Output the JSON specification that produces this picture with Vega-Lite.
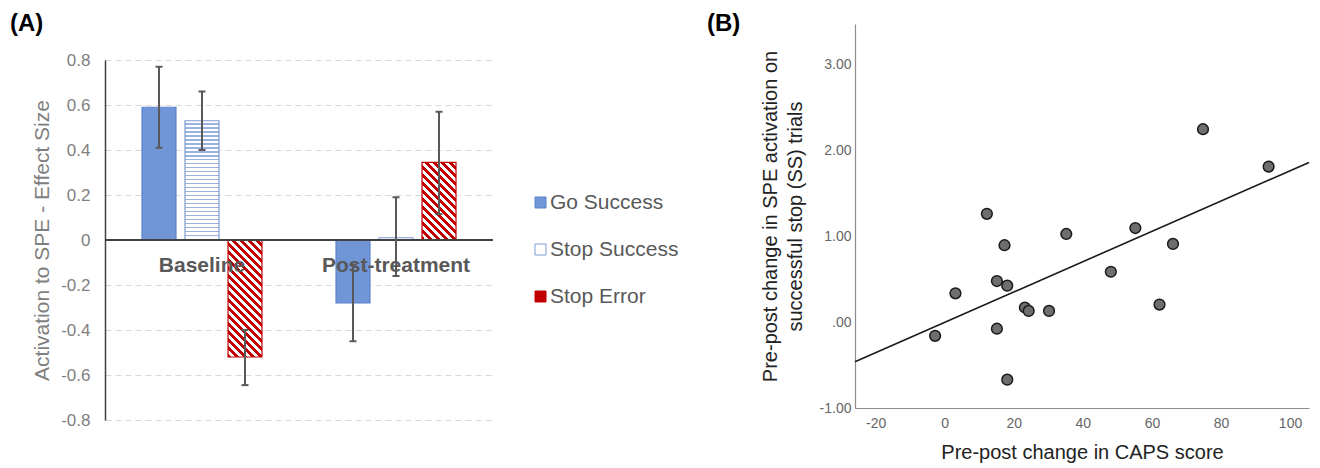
{
  "$schema": "https://vega.github.io/schema/vega-lite/v6.json",
  "padding": {"left": 10, "top": 12, "right": 5, "bottom": 5},
  "background": "#ffffff",
  "spacing": 213,
  "config": {
    "font": "Liberation Sans",
    "view": {"stroke": null},
    "axis": {"ticks": false, "labelFlush": false, "titleFontWeight": "normal"}
  },
  "hconcat": [
    {
      "spacing": 15,
      "vconcat": [
        {
          "width": 388,
          "height": 1,
          "title": {"text": "(A)", "anchor": "start", "frame": "group", "dx": -95, "offset": -12, "fontSize": 24, "fontWeight": "bold", "color": "#000000"},
          "data": {"values": []},
          "mark": "point"
        },
        {
          "width": 388,
          "height": 360,
          "data": {"values": [
            {"group": "Baseline", "series": "Go Success", "value": 0.59, "lo": 0.41, "hi": 0.77},
            {"group": "Baseline", "series": "Stop Success", "value": 0.53, "lo": 0.40, "hi": 0.66},
            {"group": "Baseline", "series": "Stop Error", "value": -0.52, "lo": -0.645, "hi": -0.40},
            {"group": "Post-treatment", "series": "Go Success", "value": -0.28, "lo": -0.45, "hi": -0.11},
            {"group": "Post-treatment", "series": "Stop Success", "value": 0.01, "lo": -0.16, "hi": 0.19},
            {"group": "Post-treatment", "series": "Stop Error", "value": 0.345, "lo": 0.115, "hi": 0.57}
          ]},
          "layer": [
            {
              "mark": {"type": "bar", "strokeWidth": 1.2},
              "encoding": {
                "x": {"field": "group", "type": "nominal", "scale": {"domain": ["Baseline", "Post-treatment"], "paddingInner": 0.335, "paddingOuter": 0.1675}, "axis": null},
                "xOffset": {"field": "series", "type": "nominal", "scale": {"domain": ["Go Success", "Stop Success", "Stop Error"], "paddingInner": 0.21, "paddingOuter": 0.105}},
                "y": {"field": "value", "type": "quantitative", "title": "Activation to SPE - Effect Size",
                  "scale": {"domain": [-0.8, 0.8], "nice": false, "zero": false},
                  "axis": {"values": [-0.8, -0.6, -0.4, -0.2, 0, 0.2, 0.4, 0.6, 0.8],
                    "labelExpr": "datum.value === 0 ? '0' : replace(format(datum.value, '.1f'), '\u2212', '-')",
                    "grid": true, "gridColor": "#d9d9d9", "gridDash": [6, 4], "gridWidth": 1,
                    "domainColor": "#404040", "domainWidth": 1.5,
                    "labelFontSize": 17, "labelColor": "#7f7f7f", "labelPadding": 15,
                    "titleFontSize": 21, "titleColor": "#7f7f7f", "titlePadding": 8}},
                "fill": {"field": "series", "type": "nominal",
                  "scale": {"domain": ["Go Success", "Stop Success", "Stop Error"], "range": ["#7096d8", "#ffffff", "#c00000"]},
                  "condition": [
                    {"test": "datum.series === 'Stop Success' && datum.group === 'Baseline'", "value": {"gradient": "linear", "x1": 0, "y1": 0, "x2": 0, "y2": 1, "stops": [
                      {"offset": 0, "color": "#ffffff"}, {"offset": 0.022, "color": "#ffffff"}, {"offset": 0.022, "color": "#9cb3df"}, {"offset": 0.0333, "color": "#9cb3df"},
                      {"offset": 0.0333, "color": "#ffffff"}, {"offset": 0.0553, "color": "#ffffff"}, {"offset": 0.0553, "color": "#9cb3df"}, {"offset": 0.0667, "color": "#9cb3df"},
                      {"offset": 0.0667, "color": "#ffffff"}, {"offset": 0.0887, "color": "#ffffff"}, {"offset": 0.0887, "color": "#9cb3df"}, {"offset": 0.1, "color": "#9cb3df"},
                      {"offset": 0.1, "color": "#ffffff"}, {"offset": 0.122, "color": "#ffffff"}, {"offset": 0.122, "color": "#9cb3df"}, {"offset": 0.1333, "color": "#9cb3df"},
                      {"offset": 0.1333, "color": "#ffffff"}, {"offset": 0.1553, "color": "#ffffff"}, {"offset": 0.1553, "color": "#9cb3df"}, {"offset": 0.1667, "color": "#9cb3df"},
                      {"offset": 0.1667, "color": "#ffffff"}, {"offset": 0.1887, "color": "#ffffff"}, {"offset": 0.1887, "color": "#9cb3df"}, {"offset": 0.2, "color": "#9cb3df"},
                      {"offset": 0.2, "color": "#ffffff"}, {"offset": 0.222, "color": "#ffffff"}, {"offset": 0.222, "color": "#9cb3df"}, {"offset": 0.2333, "color": "#9cb3df"},
                      {"offset": 0.2333, "color": "#ffffff"}, {"offset": 0.2553, "color": "#ffffff"}, {"offset": 0.2553, "color": "#9cb3df"}, {"offset": 0.2667, "color": "#9cb3df"},
                      {"offset": 0.2667, "color": "#ffffff"}, {"offset": 0.2887, "color": "#ffffff"}, {"offset": 0.2887, "color": "#9cb3df"}, {"offset": 0.3, "color": "#9cb3df"},
                      {"offset": 0.3, "color": "#ffffff"}, {"offset": 0.322, "color": "#ffffff"}, {"offset": 0.322, "color": "#9cb3df"}, {"offset": 0.3333, "color": "#9cb3df"},
                      {"offset": 0.3333, "color": "#ffffff"}, {"offset": 0.3553, "color": "#ffffff"}, {"offset": 0.3553, "color": "#9cb3df"}, {"offset": 0.3667, "color": "#9cb3df"},
                      {"offset": 0.3667, "color": "#ffffff"}, {"offset": 0.3887, "color": "#ffffff"}, {"offset": 0.3887, "color": "#9cb3df"}, {"offset": 0.4, "color": "#9cb3df"},
                      {"offset": 0.4, "color": "#ffffff"}, {"offset": 0.422, "color": "#ffffff"}, {"offset": 0.422, "color": "#9cb3df"}, {"offset": 0.4333, "color": "#9cb3df"},
                      {"offset": 0.4333, "color": "#ffffff"}, {"offset": 0.4553, "color": "#ffffff"}, {"offset": 0.4553, "color": "#9cb3df"}, {"offset": 0.4667, "color": "#9cb3df"},
                      {"offset": 0.4667, "color": "#ffffff"}, {"offset": 0.4887, "color": "#ffffff"}, {"offset": 0.4887, "color": "#9cb3df"}, {"offset": 0.5, "color": "#9cb3df"},
                      {"offset": 0.5, "color": "#ffffff"}, {"offset": 0.522, "color": "#ffffff"}, {"offset": 0.522, "color": "#9cb3df"}, {"offset": 0.5333, "color": "#9cb3df"},
                      {"offset": 0.5333, "color": "#ffffff"}, {"offset": 0.5553, "color": "#ffffff"}, {"offset": 0.5553, "color": "#9cb3df"}, {"offset": 0.5667, "color": "#9cb3df"},
                      {"offset": 0.5667, "color": "#ffffff"}, {"offset": 0.5887, "color": "#ffffff"}, {"offset": 0.5887, "color": "#9cb3df"}, {"offset": 0.6, "color": "#9cb3df"},
                      {"offset": 0.6, "color": "#ffffff"}, {"offset": 0.622, "color": "#ffffff"}, {"offset": 0.622, "color": "#9cb3df"}, {"offset": 0.6333, "color": "#9cb3df"},
                      {"offset": 0.6333, "color": "#ffffff"}, {"offset": 0.6553, "color": "#ffffff"}, {"offset": 0.6553, "color": "#9cb3df"}, {"offset": 0.6667, "color": "#9cb3df"},
                      {"offset": 0.6667, "color": "#ffffff"}, {"offset": 0.6887, "color": "#ffffff"}, {"offset": 0.6887, "color": "#9cb3df"}, {"offset": 0.7, "color": "#9cb3df"},
                      {"offset": 0.7, "color": "#ffffff"}, {"offset": 0.722, "color": "#ffffff"}, {"offset": 0.722, "color": "#9cb3df"}, {"offset": 0.7333, "color": "#9cb3df"},
                      {"offset": 0.7333, "color": "#ffffff"}, {"offset": 0.7553, "color": "#ffffff"}, {"offset": 0.7553, "color": "#9cb3df"}, {"offset": 0.7667, "color": "#9cb3df"},
                      {"offset": 0.7667, "color": "#ffffff"}, {"offset": 0.7887, "color": "#ffffff"}, {"offset": 0.7887, "color": "#9cb3df"}, {"offset": 0.8, "color": "#9cb3df"},
                      {"offset": 0.8, "color": "#ffffff"}, {"offset": 0.822, "color": "#ffffff"}, {"offset": 0.822, "color": "#9cb3df"}, {"offset": 0.8333, "color": "#9cb3df"},
                      {"offset": 0.8333, "color": "#ffffff"}, {"offset": 0.8553, "color": "#ffffff"}, {"offset": 0.8553, "color": "#9cb3df"}, {"offset": 0.8667, "color": "#9cb3df"},
                      {"offset": 0.8667, "color": "#ffffff"}, {"offset": 0.8887, "color": "#ffffff"}, {"offset": 0.8887, "color": "#9cb3df"}, {"offset": 0.9, "color": "#9cb3df"},
                      {"offset": 0.9, "color": "#ffffff"}, {"offset": 0.922, "color": "#ffffff"}, {"offset": 0.922, "color": "#9cb3df"}, {"offset": 0.9333, "color": "#9cb3df"},
                      {"offset": 0.9333, "color": "#ffffff"}, {"offset": 0.9553, "color": "#ffffff"}, {"offset": 0.9553, "color": "#9cb3df"}, {"offset": 0.9667, "color": "#9cb3df"},
                      {"offset": 0.9667, "color": "#ffffff"}, {"offset": 0.9887, "color": "#ffffff"}, {"offset": 0.9887, "color": "#9cb3df"}, {"offset": 1, "color": "#9cb3df"}
                    ]}},
                    {"test": "datum.series === 'Stop Error' && datum.group === 'Baseline'", "value": {"gradient": "linear", "x1": 0, "y1": 1, "x2": 0.3458, "y2": -0.1901, "stops": [
                      {"offset": 0, "color": "#c00000"}, {"offset": 0.0263, "color": "#c00000"}, {"offset": 0.0263, "color": "#ffffff"}, {"offset": 0.0526, "color": "#ffffff"},
                      {"offset": 0.0526, "color": "#c00000"}, {"offset": 0.0789, "color": "#c00000"}, {"offset": 0.0789, "color": "#ffffff"}, {"offset": 0.1053, "color": "#ffffff"},
                      {"offset": 0.1053, "color": "#c00000"}, {"offset": 0.1316, "color": "#c00000"}, {"offset": 0.1316, "color": "#ffffff"}, {"offset": 0.1579, "color": "#ffffff"},
                      {"offset": 0.1579, "color": "#c00000"}, {"offset": 0.1842, "color": "#c00000"}, {"offset": 0.1842, "color": "#ffffff"}, {"offset": 0.2105, "color": "#ffffff"},
                      {"offset": 0.2105, "color": "#c00000"}, {"offset": 0.2368, "color": "#c00000"}, {"offset": 0.2368, "color": "#ffffff"}, {"offset": 0.2632, "color": "#ffffff"},
                      {"offset": 0.2632, "color": "#c00000"}, {"offset": 0.2895, "color": "#c00000"}, {"offset": 0.2895, "color": "#ffffff"}, {"offset": 0.3158, "color": "#ffffff"},
                      {"offset": 0.3158, "color": "#c00000"}, {"offset": 0.3421, "color": "#c00000"}, {"offset": 0.3421, "color": "#ffffff"}, {"offset": 0.3684, "color": "#ffffff"},
                      {"offset": 0.3684, "color": "#c00000"}, {"offset": 0.3947, "color": "#c00000"}, {"offset": 0.3947, "color": "#ffffff"}, {"offset": 0.4211, "color": "#ffffff"},
                      {"offset": 0.4211, "color": "#c00000"}, {"offset": 0.4474, "color": "#c00000"}, {"offset": 0.4474, "color": "#ffffff"}, {"offset": 0.4737, "color": "#ffffff"},
                      {"offset": 0.4737, "color": "#c00000"}, {"offset": 0.5, "color": "#c00000"}, {"offset": 0.5, "color": "#ffffff"}, {"offset": 0.5263, "color": "#ffffff"},
                      {"offset": 0.5263, "color": "#c00000"}, {"offset": 0.5526, "color": "#c00000"}, {"offset": 0.5526, "color": "#ffffff"}, {"offset": 0.5789, "color": "#ffffff"},
                      {"offset": 0.5789, "color": "#c00000"}, {"offset": 0.6053, "color": "#c00000"}, {"offset": 0.6053, "color": "#ffffff"}, {"offset": 0.6316, "color": "#ffffff"},
                      {"offset": 0.6316, "color": "#c00000"}, {"offset": 0.6579, "color": "#c00000"}, {"offset": 0.6579, "color": "#ffffff"}, {"offset": 0.6842, "color": "#ffffff"},
                      {"offset": 0.6842, "color": "#c00000"}, {"offset": 0.7105, "color": "#c00000"}, {"offset": 0.7105, "color": "#ffffff"}, {"offset": 0.7368, "color": "#ffffff"},
                      {"offset": 0.7368, "color": "#c00000"}, {"offset": 0.7632, "color": "#c00000"}, {"offset": 0.7632, "color": "#ffffff"}, {"offset": 0.7895, "color": "#ffffff"},
                      {"offset": 0.7895, "color": "#c00000"}, {"offset": 0.8158, "color": "#c00000"}, {"offset": 0.8158, "color": "#ffffff"}, {"offset": 0.8421, "color": "#ffffff"},
                      {"offset": 0.8421, "color": "#c00000"}, {"offset": 0.8684, "color": "#c00000"}, {"offset": 0.8684, "color": "#ffffff"}, {"offset": 0.8947, "color": "#ffffff"},
                      {"offset": 0.8947, "color": "#c00000"}, {"offset": 0.9211, "color": "#c00000"}, {"offset": 0.9211, "color": "#ffffff"}, {"offset": 0.9474, "color": "#ffffff"},
                      {"offset": 0.9474, "color": "#c00000"}, {"offset": 0.9737, "color": "#c00000"}, {"offset": 0.9737, "color": "#ffffff"}, {"offset": 1, "color": "#ffffff"}
                    ]}},
                    {"test": "datum.series === 'Stop Error' && datum.group === 'Post-treatment'", "value": {"gradient": "linear", "x1": 0, "y1": 1, "x2": 0.5286, "y2": -0.2065, "stops": [
                      {"offset": 0, "color": "#c00000"}, {"offset": 0.0357, "color": "#c00000"}, {"offset": 0.0357, "color": "#ffffff"}, {"offset": 0.0714, "color": "#ffffff"},
                      {"offset": 0.0714, "color": "#c00000"}, {"offset": 0.1071, "color": "#c00000"}, {"offset": 0.1071, "color": "#ffffff"}, {"offset": 0.1429, "color": "#ffffff"},
                      {"offset": 0.1429, "color": "#c00000"}, {"offset": 0.1786, "color": "#c00000"}, {"offset": 0.1786, "color": "#ffffff"}, {"offset": 0.2143, "color": "#ffffff"},
                      {"offset": 0.2143, "color": "#c00000"}, {"offset": 0.25, "color": "#c00000"}, {"offset": 0.25, "color": "#ffffff"}, {"offset": 0.2857, "color": "#ffffff"},
                      {"offset": 0.2857, "color": "#c00000"}, {"offset": 0.3214, "color": "#c00000"}, {"offset": 0.3214, "color": "#ffffff"}, {"offset": 0.3571, "color": "#ffffff"},
                      {"offset": 0.3571, "color": "#c00000"}, {"offset": 0.3929, "color": "#c00000"}, {"offset": 0.3929, "color": "#ffffff"}, {"offset": 0.4286, "color": "#ffffff"},
                      {"offset": 0.4286, "color": "#c00000"}, {"offset": 0.4643, "color": "#c00000"}, {"offset": 0.4643, "color": "#ffffff"}, {"offset": 0.5, "color": "#ffffff"},
                      {"offset": 0.5, "color": "#c00000"}, {"offset": 0.5357, "color": "#c00000"}, {"offset": 0.5357, "color": "#ffffff"}, {"offset": 0.5714, "color": "#ffffff"},
                      {"offset": 0.5714, "color": "#c00000"}, {"offset": 0.6071, "color": "#c00000"}, {"offset": 0.6071, "color": "#ffffff"}, {"offset": 0.6429, "color": "#ffffff"},
                      {"offset": 0.6429, "color": "#c00000"}, {"offset": 0.6786, "color": "#c00000"}, {"offset": 0.6786, "color": "#ffffff"}, {"offset": 0.7143, "color": "#ffffff"},
                      {"offset": 0.7143, "color": "#c00000"}, {"offset": 0.75, "color": "#c00000"}, {"offset": 0.75, "color": "#ffffff"}, {"offset": 0.7857, "color": "#ffffff"},
                      {"offset": 0.7857, "color": "#c00000"}, {"offset": 0.8214, "color": "#c00000"}, {"offset": 0.8214, "color": "#ffffff"}, {"offset": 0.8571, "color": "#ffffff"},
                      {"offset": 0.8571, "color": "#c00000"}, {"offset": 0.8929, "color": "#c00000"}, {"offset": 0.8929, "color": "#ffffff"}, {"offset": 0.9286, "color": "#ffffff"},
                      {"offset": 0.9286, "color": "#c00000"}, {"offset": 0.9643, "color": "#c00000"}, {"offset": 0.9643, "color": "#ffffff"}, {"offset": 1, "color": "#ffffff"}
                    ]}}
                  ],
                  "legend": {
                    "title": null, "orient": "none", "legendX": 425, "legendY": 168, "padding": 0,
                    "symbolType": "square", "symbolSize": 121, "symbolStrokeWidth": 1,
                    "labelFontSize": 21, "labelColor": "#595959", "labelOffset": -1, "rowPadding": 25,
                    "encode": {"symbols": {"update": {
                      "fill": [
                        {"test": "datum.value === 'Stop Success'", "value": {"gradient": "linear", "x1": 0, "y1": 0, "x2": 0, "y2": 1, "stops": [
                          {"offset": 0, "color": "#ffffff"}, {"offset": 0.4, "color": "#ffffff"}, {"offset": 0.4, "color": "#7c9ad2"}, {"offset": 0.6, "color": "#7c9ad2"}, {"offset": 0.6, "color": "#ffffff"}, {"offset": 1, "color": "#ffffff"}]}},
                        {"test": "datum.value === 'Stop Error'", "value": {"gradient": "linear", "x1": 0, "y1": 1, "x2": 1, "y2": 0, "stops": [
                          {"offset": 0, "color": "#c00000"}, {"offset": 0.3, "color": "#c00000"}, {"offset": 0.3, "color": "#ffffff"}, {"offset": 0.45, "color": "#ffffff"}, {"offset": 0.45, "color": "#c00000"}, {"offset": 0.62, "color": "#c00000"}, {"offset": 0.62, "color": "#ffffff"}, {"offset": 0.74, "color": "#ffffff"}, {"offset": 0.74, "color": "#c00000"}, {"offset": 1, "color": "#c00000"}]}},
                        {"value": "#7096d8"}
                      ],
                      "stroke": [
                        {"test": "datum.value === 'Stop Error'", "value": "#c00000"},
                        {"test": "datum.value === 'Stop Success'", "value": "#7c9ad2"},
                        {"value": "#5b82cc"}
                      ],
                      "strokeWidth": {"value": 1}
                    }}}
                  }
                },
                "stroke": {"field": "series", "type": "nominal", "legend": null,
                  "scale": {"domain": ["Go Success", "Stop Success", "Stop Error"], "range": ["#5b82cc", "#7c9ad2", "#c00000"]}}
              }
            },
            {
              "mark": {"type": "rule", "color": "#404040", "strokeWidth": 1.5},
              "encoding": {"y": {"datum": 0, "type": "quantitative"}}
            },
            {
              "mark": {"type": "rule", "color": "#595959", "strokeWidth": 2},
              "encoding": {
                "x": {"field": "group", "type": "nominal"},
                "xOffset": {"field": "series", "type": "nominal"},
                "y": {"field": "lo", "type": "quantitative", "title": "Activation to SPE - Effect Size"},
                "y2": {"field": "hi"}
              }
            },
            {
              "mark": {"type": "tick", "color": "#595959", "thickness": 2, "size": 7, "opacity": 1},
              "encoding": {
                "x": {"field": "group", "type": "nominal"},
                "xOffset": {"field": "series", "type": "nominal"},
                "y": {"field": "lo", "type": "quantitative", "title": "Activation to SPE - Effect Size"}
              }
            },
            {
              "mark": {"type": "tick", "color": "#595959", "thickness": 2, "size": 7, "opacity": 1},
              "encoding": {
                "x": {"field": "group", "type": "nominal"},
                "xOffset": {"field": "series", "type": "nominal"},
                "y": {"field": "hi", "type": "quantitative", "title": "Activation to SPE - Effect Size"}
              }
            },
            {
              "data": {"values": [{"group": "Baseline"}, {"group": "Post-treatment"}]},
              "mark": {"type": "text", "fontSize": 21, "fontWeight": "bold", "color": "#595959", "dy": 26, "baseline": "middle", "align": "center"},
              "encoding": {
                "x": {"field": "group", "type": "nominal"},
                "y": {"datum": 0, "type": "quantitative"},
                "text": {"field": "group", "type": "nominal"}
              }
            }
          ]
        }
      ]
    },
    {
      "width": 454,
      "height": 384,
      "title": {"text": "(B)", "anchor": "start", "frame": "group", "dx": -148, "offset": -12, "fontSize": 24, "fontWeight": "bold", "color": "#000000"},
      "layer": [
        {
          "data": {"values": [{"caps": -26, "spe": -0.462}, {"caps": 105.5, "spe": 1.859}]},
          "mark": {"type": "line", "color": "#1a1a1a", "strokeWidth": 1.6},
          "encoding": {
            "x": {"field": "caps", "type": "quantitative"},
            "y": {"field": "spe", "type": "quantitative"}
          }
        },
        {
          "data": {"values": [
            {"caps": -2.8, "spe": -0.16},
            {"caps": 3.1, "spe": 0.335},
            {"caps": 12.2, "spe": 1.26},
            {"caps": 17.3, "spe": 0.895},
            {"caps": 15.1, "spe": 0.478},
            {"caps": 18.1, "spe": 0.424},
            {"caps": 15.1, "spe": -0.077},
            {"caps": 18.1, "spe": -0.67},
            {"caps": 23.2, "spe": 0.17},
            {"caps": 24.3, "spe": 0.13},
            {"caps": 30.2, "spe": 0.13},
            {"caps": 35.2, "spe": 1.026},
            {"caps": 48.1, "spe": 0.586},
            {"caps": 55.2, "spe": 1.095},
            {"caps": 62.2, "spe": 0.204},
            {"caps": 66.1, "spe": 0.91},
            {"caps": 74.8, "spe": 2.245},
            {"caps": 93.8, "spe": 1.81}
          ]},
          "mark": {"type": "circle", "size": 115, "fill": "#6e6e6e", "stroke": "#1a1a1a", "strokeWidth": 1.5, "opacity": 1},
          "encoding": {
            "x": {"field": "caps", "type": "quantitative", "title": "Pre-post change in CAPS score",
              "scale": {"domain": [-26, 105.5], "nice": false, "zero": false},
              "axis": {"values": [-20, 0, 20, 40, 60, 80, 100],
                "labelExpr": "replace(format(datum.value, 'd'), '\u2212', '-')",
                "grid": false, "domainColor": "#8c8c8c", "domainWidth": 1.2,
                "labelFontSize": 14, "labelColor": "#666666", "labelPadding": 8,
                "titleFontSize": 20, "titleColor": "#222222", "titlePadding": 12}},
            "y": {"field": "spe", "type": "quantitative", "title": ["Pre-post change in SPE activation on", "successful stop (SS) trials"],
              "scale": {"domain": [-1, 3.47], "nice": false, "zero": false},
              "axis": {"values": [-1, 0, 1, 2, 3],
                "labelExpr": "datum.value === 0 ? '.00' : replace(format(datum.value, '.2f'), '\u2212', '-')",
                "grid": false, "domainColor": "#8c8c8c", "domainWidth": 1.2,
                "labelFontSize": 14, "labelColor": "#666666", "labelPadding": 4,
                "titleFontSize": 20, "titleColor": "#222222", "titlePadding": 14, "titleLineHeight": 25}}
          }
        }
      ]
    }
  ]
}
